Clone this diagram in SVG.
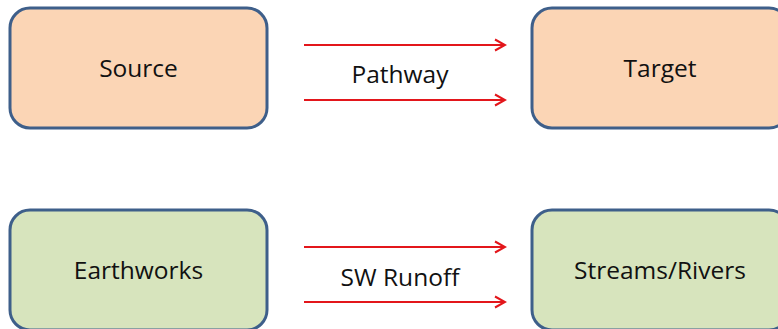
<svg xmlns="http://www.w3.org/2000/svg" width="778" height="329" viewBox="0 0 778 329">
<defs>
<marker id="ah" markerWidth="14" markerHeight="14" refX="12" refY="7" orient="auto" markerUnits="userSpaceOnUse">
<path d="M2,1.5 L12,7 L2,12.5" fill="none" stroke="#E3161B" stroke-width="2"/>
</marker>
<style>
.box{stroke:#3E5F8A;stroke-width:3}
.peach{fill:#FBD5B5}
.green{fill:#D7E4BD}
.t{font-family:"Open Sans","Liberation Sans",sans-serif;font-size:24.5px;fill:#111;text-anchor:middle}
.c{stroke:#E3161B;stroke-width:2;fill:none;marker-end:url(#ah)}
</style>
</defs>
<rect width="778" height="329" fill="#fff"/>
<g id="source"><rect class="box peach" x="10" y="8" width="257" height="120" rx="20"/><text class="t" x="138.5" y="77">Source</text></g>
<g id="target"><rect class="box peach" x="532" y="8" width="257" height="120" rx="20"/><text class="t" x="660" y="77">Target</text></g>
<g id="earthworks"><rect class="box green" x="10" y="210" width="257" height="120" rx="20"/><text class="t" x="138.5" y="279">Earthworks</text></g>
<g id="streams"><rect class="box green" x="532" y="210" width="257" height="120" rx="20"/><text class="t" x="660" y="279">Streams/Rivers</text></g>
<g id="connectors">
<line class="c" x1="304" y1="45" x2="505" y2="45"/>
<line class="c" x1="304" y1="100" x2="505" y2="100"/>
<line class="c" x1="304" y1="247" x2="505" y2="247"/>
<line class="c" x1="304" y1="302" x2="505" y2="302"/>
<text class="t" x="400" y="83">Pathway</text>
<text class="t" x="400" y="286">SW Runoff</text>
</g>
</svg>
